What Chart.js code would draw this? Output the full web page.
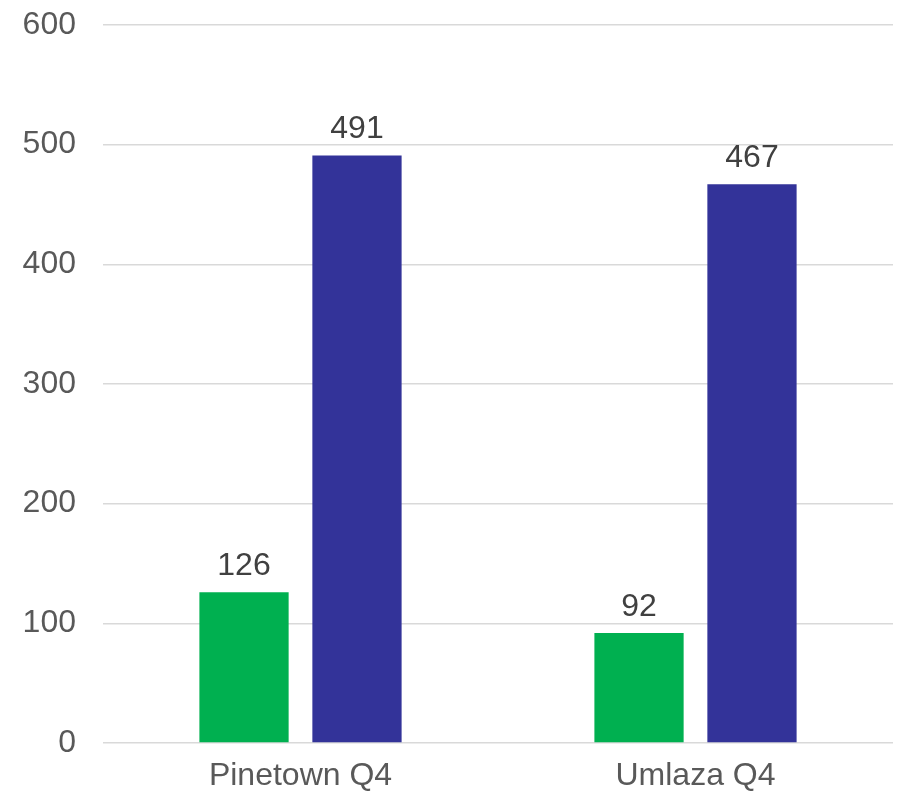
<!DOCTYPE html>
<html>
<head>
<meta charset="utf-8">
<script src="https://cdn.jsdelivr.net/npm/chart.js@4/dist/chart.umd.min.js"></script>
<style>
  html, body { margin: 0; padding: 0; background: #ffffff; }
  #wrap { width: 899px; height: 794px; }
</style>
</head>
<body>
<div id="wrap"><canvas id="chart"></canvas></div>
<script>
// Quarterly figures per site
const categories = ['Pinetown Q4', 'Umlaza Q4'];
const seriesGreen = [126, 92];
const seriesBlue = [491, 467];
const yTicks = [0, 100, 200, 300, 400, 500, 600];

// Writes each bar's value just above it
const valueLabels = {
  id: 'valueLabels',
  afterDatasetsDraw(chart) {
    const ctx = chart.ctx;
    ctx.save();
    ctx.font = '32px "Liberation Sans", Arial, sans-serif';
    ctx.fillStyle = '#404040';
    ctx.textAlign = 'center';
    ctx.textBaseline = 'alphabetic';
    chart.data.datasets.forEach((ds, i) => {
      chart.getDatasetMeta(i).data.forEach((bar, j) => {
        ctx.fillText(String(ds.data[j]), bar.x, bar.y - 17);
      });
    });
    ctx.restore();
  }
};

new Chart(document.getElementById('chart'), {
  type: 'bar',
  data: {
    labels: categories,
    datasets: [
      { data: seriesGreen, backgroundColor: '#00B050' },
      { data: seriesBlue, backgroundColor: '#333399' }
    ]
  },
  options: {
    responsive: true,
    maintainAspectRatio: false,
    animation: false,
    datasets: { bar: { categoryPercentage: 0.572, barPercentage: 0.79 } },
    layout: { padding: { top: 25, right: 6, bottom: 0, left: 22 } },
    plugins: { legend: { display: false }, tooltip: { enabled: false } },
    scales: {
      x: {
        afterFit(axis) { axis.height = 51; axis.paddingLeft = 0; axis.paddingRight = 0; },
        grid: { display: false, drawTicks: false },
        border: { display: false },
        ticks: {
          padding: 14,
          color: '#595959',
          font: { family: '"Liberation Sans", Arial, sans-serif', size: 32 }
        }
      },
      y: {
        min: yTicks[0],
        max: yTicks[yTicks.length - 1],
        afterBuildTicks(axis) { axis.ticks = yTicks.map(v => ({ value: v })); },
        afterFit(axis) { axis.width = 81; axis.paddingTop = 0; axis.paddingBottom = 0; },
        grid: { color: '#d9d9d9', lineWidth: 1.5, drawTicks: false },
        border: { display: false },
        ticks: {
          padding: 27,
          color: '#595959',
          font: { family: '"Liberation Sans", Arial, sans-serif', size: 32 }
        }
      }
    }
  },
  plugins: [valueLabels]
});
</script>
</body>
</html>
